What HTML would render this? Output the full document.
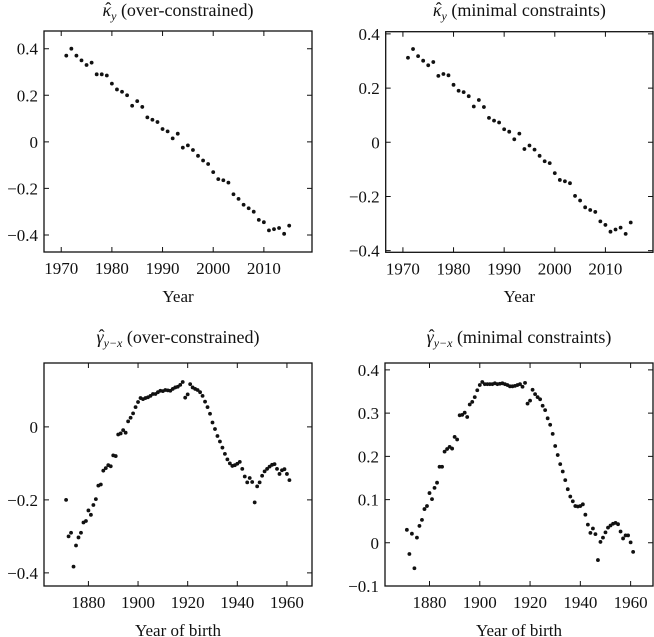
<!DOCTYPE html>
<html><head><meta charset="utf-8"><style>
html,body{margin:0;padding:0;background:#fff;}
svg{display:block;font-family:"Liberation Serif",serif;}
</style></head><body>
<svg id="chart" width="654" height="637" viewBox="0 0 654 637" xmlns="http://www.w3.org/2000/svg"></svg>
<script>
const kYears = [1971,1972,1973,1974,1975,1976,1977,1978,1979,1980,1981,1982,1983,1984,1985,1986,1987,1988,1989,1990,1991,1992,1993,1994,1995,1996,1997,1998,1999,2000,2001,2002,2003,2004,2005,2006,2007,2008,2009,2010,2011,2012,2013,2014,2015];
const kappaOver = [.37,.40,.37,.35,.33,.34,.29,.29,.285,.25,.225,.215,.20,.155,.175,.15,.105,.095,.085,.055,.045,.015,.035,-.025,-.015,-.035,-.06,-.08,-.095,-.13,-.16,-.165,-.175,-.225,-.245,-.27,-.285,-.3,-.335,-.345,-.38,-.375,-.37,-.395,-.36];
const kappaMin = [.312,.344,.318,.301,.284,.296,.245,.252,.247,.212,.19,.185,.17,.132,.156,.13,.09,.08,.073,.048,.039,.011,.032,-.025,-.012,-.027,-.05,-.07,-.077,-.114,-.139,-.144,-.151,-.198,-.215,-.24,-.25,-.257,-.292,-.305,-.33,-.322,-.315,-.338,-.296];
const gYearStart = 1871;
const gammaOver = [-.2,-.3,-.29,-.383,-.325,-.303,-.29,-.262,-.258,-.229,-.241,-.214,-.198,-.161,-.158,-.12,-.113,-.105,-.108,-.078,-.08,-.021,-.018,-.009,-.016,.015,.025,.037,.054,.068,.079,.076,.079,.081,.085,.09,.09,.095,.099,.098,.101,.10,.099,.104,.108,.11,.115,.123,.08,.089,.117,.108,.104,.101,.095,.085,.069,.054,.036,.012,-.006,-.025,-.04,-.057,-.074,-.089,-.1,-.107,-.105,-.101,-.096,-.115,-.136,-.152,-.14,-.151,-.207,-.163,-.152,-.134,-.122,-.115,-.109,-.104,-.102,-.115,-.129,-.119,-.116,-.129,-.146];
const gammaMin = [.03,-.026,.021,-.059,.012,.039,.053,.078,.085,.115,.101,.127,.139,.176,.176,.211,.217,.222,.218,.245,.239,.295,.296,.301,.291,.32,.326,.337,.353,.365,.372,.367,.367,.367,.367,.369,.367,.368,.369,.367,.365,.362,.362,.363,.365,.367,.361,.37,.322,.329,.354,.344,.337,.332,.317,.307,.288,.273,.252,.224,.203,.182,.165,.145,.124,.107,.096,.085,.084,.085,.089,.065,.042,.023,.033,.02,-.04,.002,.012,.024,.035,.04,.044,.046,.043,.026,.01,.017,.017,.001,-.021];
const gYears = gammaOver.map((_, i) => gYearStart + i);
const kXTicks = [1970,1980,1990,2000,2010];
const gXTicks = [1880,1900,1920,1940,1960];
const kYTicks = [0.4,0.2,0,-0.2,-0.4];
const gOverYTicks = [0,-0.2,-0.4];
const gMinYTicks = [0.4,0.3,0.2,0.1,0,-0.1];

const NS = "http://www.w3.org/2000/svg";
const svg = document.getElementById('chart');
function mk(tag, attrs, parent) {
  const e = document.createElementNS(NS, tag);
  for (const k in attrs) e.setAttribute(k, attrs[k]);
  (parent || svg).appendChild(e);
  return e;
}
function fmt(v) {
  if (v === 0) return '0';
  const s = Math.abs(v).toFixed(1);
  return (v < 0 ? '\u2212' : '') + s;
}
function panel(cfg) {
  const g = mk('g', {});
  
  
  const {L, R, T, B, x0, x1, y0, y1} = cfg;
  const sx = v => L + (v - x0) / (x1 - x0) * (R - L);
  const sy = v => B - (v - y0) / (y1 - y0) * (B - T);
  const frame = mk('rect', {x: L, y: T, width: R - L, height: B - T, fill: 'none', stroke: '#111', 'stroke-width': 1.3}, g);
  
  
  cfg.xTicks.forEach(t => {
    const x = sx(t);
    const tk = mk('path', {d: `M${x},${B}v-5M${x},${T}v5`, stroke: '#111', 'stroke-width': 1}, g);
    
    
    const lb = mk('text', {x: x, y: B + 22, 'text-anchor': 'middle', 'font-size': 17, fill: '#111'}, g);
    lb.textContent = t;
    
    
  });
  cfg.yTicks.forEach(t => {
    const y = sy(t);
    const tk = mk('path', {d: `M${L},${y}h5M${R},${y}h-5`, stroke: '#111', 'stroke-width': 1}, g);
    
    
    const lb = mk('text', {x: L - 6, y: y + 6, 'text-anchor': 'end', 'font-size': 17, fill: '#111'}, g);
    lb.textContent = fmt(t);
    
    
  });
  cfg.xs.forEach((xv, i) => {
    const c = mk('circle', {cx: sx(xv), cy: sy(cfg.ys[i]), r: 1.9, fill: '#111'}, g);
    
    
  });
  const cx = (L + R) / 2;
  const tt = mk('text', {x: cx, y: cfg.titleY, 'text-anchor': 'middle', 'font-size': 18, fill: '#111'}, g);
  
  
  const s1 = mk('tspan', {'font-style': 'italic'}, tt); s1.textContent = cfg.sym;
  const s2 = mk('tspan', {'font-style': 'italic', 'font-size': 12, dy: 4}, tt); s2.textContent = cfg.sub;
  const s3 = mk('tspan', {dy: -4}, tt); s3.textContent = ' ' + cfg.title;
  try {
    const p0 = tt.getStartPositionOfChar(0).x;
    const p1 = tt.getEndPositionOfChar(0).x;
    const hat = mk('text', {x: (p0 + p1) / 2 + 1.5, y: cfg.titleY - 1, 'text-anchor': 'middle', 'font-size': 18, fill: '#111'}, g);
    hat.textContent = '\u02C6';
    
    
  } catch (e) {}
  const xl = mk('text', {x: cx, y: cfg.xlabY, 'text-anchor': 'middle', 'font-size': 17, fill: '#111'}, g);
  xl.textContent = cfg.xlab;
  
  
}
panel({name:'panel-kappa-over', L:44, R:312, T:31, B:252, x0:1966.6, x1:2019.5, y0:-0.473, y1:0.476,
  xTicks:kXTicks, yTicks:kYTicks, xs:kYears, ys:kappaOver, sym:'\u03BA', sub:'y', title:'(over-constrained)', titleY:16, xlab:'Year', xlabY:302});
panel({name:'panel-kappa-min', L:385.7, R:653, T:31.7, B:252.3, x0:1966.6, x1:2019.4, y0:-0.406, y1:0.408,
  xTicks:kXTicks, yTicks:kYTicks, xs:kYears, ys:kappaMin, sym:'\u03BA', sub:'y', title:'(minimal constraints)', titleY:16, xlab:'Year', xlabY:302});
panel({name:'panel-gamma-over', L:44, R:312, T:363, B:586, x0:1862.1, x1:1970.1, y0:-0.436, y1:0.175,
  xTicks:gXTicks, yTicks:gOverYTicks, xs:gYears, ys:gammaOver, sym:'\u03B3', sub:'y\u2212x', title:'(over-constrained)', titleY:343, xlab:'Year of birth', xlabY:636});
panel({name:'panel-gamma-min', L:385, R:653, T:363, B:586, x0:1862.3, x1:1968.9, y0:-0.1, y1:0.416,
  xTicks:gXTicks, yTicks:gMinYTicks, xs:gYears, ys:gammaMin, sym:'\u03B3', sub:'y\u2212x', title:'(minimal constraints)', titleY:343, xlab:'Year of birth', xlabY:636});
</script>
</body></html>
